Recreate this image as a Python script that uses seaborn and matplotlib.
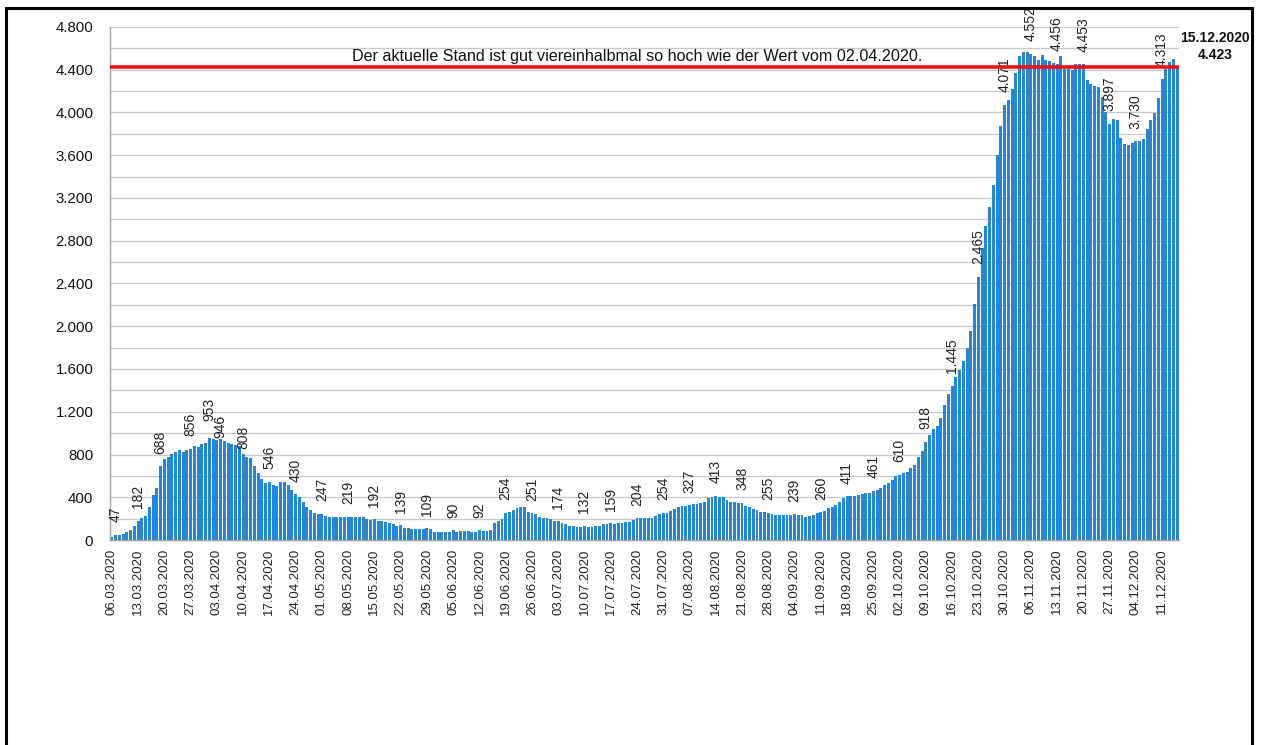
import matplotlib
matplotlib.use("Agg")
import matplotlib.pyplot as plt
import seaborn as sns
import pandas as pd
from matplotlib.patches import Rectangle

# ---------------- data ----------------
start_date = "2020-03-06"
end_date = "2020-12-15"

values = [
    31, 47, 50, 60, 75, 95, 130, 182, 205, 220,            # 0-9
    312, 422, 490, 688, 756, 781, 803, 819, 844, 828,      # 10-19
    844, 856, 881, 869, 900, 912, 953, 945, 940, 946,      # 20-29
    925, 906, 900, 890, 875, 808, 780, 765, 690, 625,      # 30-39
    570, 535, 546, 515, 506, 547, 540, 515, 470, 430,      # 40-49
    400, 360, 312, 280, 255, 244, 247, 228, 219, 212,      # 50-59
    219, 219, 212, 219, 212, 212, 219, 212, 197, 185,      # 60-69
    192, 180, 178, 170, 160, 150, 131, 139, 115, 110,      # 70-79
    100, 100, 100, 100, 109, 100, 78, 72, 72, 72,          # 80-89
    72, 90, 78, 84, 84, 84, 78, 78, 92, 84,                # 90-99
    88, 94, 156, 181, 194, 254, 266, 281, 303, 312,        # 100-109
    312, 266, 251, 244, 219, 209, 203, 194, 181, 174,      # 110-119
    162, 150, 134, 131, 125, 125, 132, 125, 125, 131,      # 120-129
    131, 147, 147, 159, 150, 156, 162, 166, 172, 187,      # 130-139
    204, 203, 203, 203, 209, 228, 240, 254, 256, 275,      # 140-149
    290, 306, 319, 319, 327, 337, 337, 344, 360, 390,      # 150-159
    406, 413, 406, 400, 375, 360, 352, 345, 348, 318,      # 160-169
    306, 292, 281, 265, 260, 255, 240, 235, 232, 230,      # 170-179
    230, 232, 239, 235, 232, 215, 228, 236, 250, 260,      # 180-189
    275, 296, 312, 331, 355, 395, 411, 412, 415, 421,      # 190-199
    427, 437, 440, 461, 470, 490, 510, 530, 560, 600,      # 200-209
    610, 630, 632, 671, 702, 772, 835, 918, 983, 1040,     # 210-219
    1071, 1143, 1260, 1370, 1445, 1521, 1591, 1679, 1796, 1953,  # 220-229
    2211, 2465, 2734, 2936, 3112, 3323, 3600, 3875, 4071, 4120,  # 230-239
    4221, 4372, 4527, 4565, 4570, 4552, 4527, 4495, 4536, 4489,  # 240-249
    4479, 4464, 4456, 4530, 4410, 4405, 4400, 4450, 4455, 4453,  # 250-259
    4300, 4262, 4252, 4237, 4149, 4000, 3897, 3937, 3931, 3764,  # 260-269
    3708, 3695, 3717, 3730, 3733, 3748, 3843, 3928, 3991, 4136,  # 270-279
    4313, 4410, 4473, 4505, 4423,                                # 280-284
]

label_dates = [
    "07.03.2020", "13.03.2020", "19.03.2020", "27.03.2020", "01.04.2020",
    "04.04.2020", "10.04.2020", "17.04.2020", "24.04.2020", "01.05.2020",
    "08.05.2020", "15.05.2020", "22.05.2020", "29.05.2020", "05.06.2020",
    "12.06.2020", "19.06.2020", "26.06.2020", "03.07.2020", "10.07.2020",
    "17.07.2020", "24.07.2020", "31.07.2020", "07.08.2020", "14.08.2020",
    "21.08.2020", "28.08.2020", "04.09.2020", "11.09.2020", "18.09.2020",
    "25.09.2020", "02.10.2020", "09.10.2020", "16.10.2020", "23.10.2020",
    "30.10.2020", "06.11.2020", "13.11.2020", "20.11.2020", "27.11.2020",
    "04.12.2020", "11.12.2020",
]

reference_value = 4423
reference_text = "Der aktuelle Stand ist gut viereinhalbmal so hoch wie der Wert vom 02.04.2020."
current_date_text = "15.12.2020"
current_value_text = "4.423"

y_ticks = [0, 400, 800, 1200, 1600, 2000, 2400, 2800, 3200, 3600, 4000, 4400, 4800]

# label offsets (points above the bar top), style only
default_offset = 9
special_offsets = {"01.04.2020": 12, "04.04.2020": 1, "10.04.2020": 3}

# ---------------- build ----------------
dates = pd.date_range(start_date, end_date, freq="D").strftime("%d.%m.%Y").tolist()
assert len(dates) == len(values), (len(dates), len(values))
df = pd.DataFrame({"Datum": dates, "Wert": values})


def fmt(v):
    return f"{int(v):,}".replace(",", ".")


sns.set_theme(style="white")
plt.rcParams["font.family"] = ["Liberation Sans", "DejaVu Sans"]

W, H = 1261, 745
fig = plt.figure(figsize=(W / 100, H / 100), dpi=100)
ax = fig.add_axes([110 / W, 1 - 540 / H, (1179 - 110) / W, (540 - 27) / H])

sns.barplot(data=df, x="Datum", y="Wert", color="#2585d6", saturation=1,
            width=0.78, ax=ax, errorbar=None, edgecolor="none")

ax.set_xlim(-0.5, len(values) - 0.5)
ax.set_ylim(0, 4800)

# grid every 200, labels every 400
ax.set_yticks(range(0, 4801, 200), minor=True)
ax.set_yticks(y_ticks)
ax.set_yticklabels([fmt(t) for t in y_ticks], fontsize=10.8, color="#111111")
ax.yaxis.grid(True, which="both", color="#c8c8c8", linewidth=0.9)
ax.set_axisbelow(True)
ax.tick_params(axis="y", which="both", length=0, pad=12)

xt = list(range(0, len(values), 7))
ax.set_xticks(xt)
ax.set_xticklabels([dates[i] for i in xt], rotation=90, fontsize=9.5, color="#222222")
ax.tick_params(axis="x", length=0, pad=6)
ax.set_xlabel("")
ax.set_ylabel("")

for s in ["top", "right"]:
    ax.spines[s].set_visible(False)
for s in ["left", "bottom"]:
    ax.spines[s].set_color("#a0a0a0")
    ax.spines[s].set_linewidth(1.0)

# data labels
for d in label_dates:
    i = dates.index(d)
    off = special_offsets.get(d, default_offset)
    ax.annotate(fmt(values[i]), xy=(i, values[i]), xytext=(0, off),
                textcoords="offset points", rotation=90, ha="center", va="bottom",
                fontsize=10, color="#222222", annotation_clip=False)

# reference line
ax.axhline(reference_value, color="#ee1111", linewidth=2.6, zorder=5)
ax.text((637 - 110) / (1179 - 110), 4450, reference_text, transform=ax.get_yaxis_transform(),
        ha="center", va="bottom", fontsize=11.6, color="#111111")

# current value annotation
fig.text(1215 / W, 1 - 38 / H, current_date_text, ha="center", va="center",
         fontsize=10, fontweight="bold", color="#111111")
fig.text(1215 / W, 1 - 55 / H, current_value_text, ha="center", va="center",
         fontsize=10, fontweight="bold", color="#111111")

# outer frame
fig.patches.append(Rectangle((6 / W, -0.05), (1252 - 6) / W, 1 - 8 / H + 0.05,
                             transform=fig.transFigure, fill=False,
                             edgecolor="black", linewidth=2.2))

fig.savefig("out.png", dpi=100)
